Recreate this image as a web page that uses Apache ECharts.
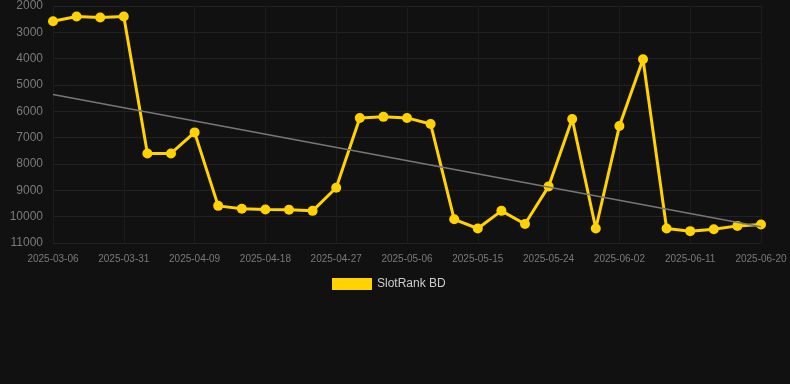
<!DOCTYPE html>
<html>
<head>
<meta charset="utf-8">
<script src="https://cdn.jsdelivr.net/npm/echarts@6/dist/echarts.min.js"></script>
<style>
    html, body { margin: 0; padding: 0; background: #111111; }
    #chart-rank { width: 790px; height: 384px; }
</style>
</head>
<body>
<div id="chart-rank"></div>
<script>
// 日期
var dates = ['2025-03-06', '2025-03-25', '2025-03-28', '2025-03-31', '2025-04-03', '2025-04-06',
    '2025-04-09', '2025-04-12', '2025-04-15', '2025-04-18', '2025-04-21', '2025-04-24',
    '2025-04-27', '2025-04-30', '2025-05-03', '2025-05-06', '2025-05-09', '2025-05-12',
    '2025-05-15', '2025-05-18', '2025-05-21', '2025-05-24', '2025-05-27', '2025-05-30',
    '2025-06-02', '2025-06-05', '2025-06-08', '2025-06-11', '2025-06-14', '2025-06-17',
    '2025-06-20'];
// 排名
var rankBD = [2580, 2400, 2440, 2400, 7600, 7600,
    6800, 9590, 9700, 9730, 9740, 9780,
    8900, 6250, 6210, 6250, 6480, 10100,
    10450, 9780, 10280, 8850, 6290, 10450,
    6560, 4020, 10450, 10550, 10480, 10350,
    10300];
// 趋势线两端
var trendDates = ['2025-03-06', '2025-06-20'];
var trendValues = [5360, 10380];
var yTicks = {min: 2000, max: 11000, step: 1000};

var chartRank = echarts.init(document.getElementById('chart-rank'));
var option = {
    backgroundColor: '#111111',
    animation: false,
    grid: {
        top: 6,
        left: 53,
        right: 29,
        bottom: 141
    },
    legend: {
        data: ['SlotRank BD'],
        top: 273,
        left: 327,
        icon: 'rect',
        itemWidth: 40,
        itemHeight: 12,
        itemGap: 10,
        textStyle: {
            color: '#cccccc',
            fontSize: 12,
            fontFamily: 'Liberation Sans'
        }
    },
    xAxis: {
        type: 'category',
        boundaryGap: false,
        data: dates,
        axisLine: {show: false},
        axisTick: {show: false},
        axisLabel: {
            interval: 2,
            color: '#7a7a7a',
            fontSize: 10,
            margin: 11,
            fontFamily: 'Liberation Sans'
        },
        splitLine: {
            show: true,
            interval: 2,
            lineStyle: {color: '#1c1c1c'}
        }
    },
    yAxis: {
        type: 'value',
        inverse: true,
        min: yTicks.min,
        max: yTicks.max,
        interval: yTicks.step,
        axisLine: {show: false},
        axisTick: {show: false},
        axisLabel: {
            color: '#7a7a7a',
            fontSize: 12,
            margin: 10,
            fontFamily: 'Liberation Sans',
            formatter: function (val) {
                return String(val);
            }
        },
        splitLine: {
            lineStyle: {color: '#222222'}
        }
    },
    series: [{
        name: 'SlotRank BD',
        type: 'line',
        data: rankBD,
        symbol: 'circle',
        symbolSize: 10,
        itemStyle: {color: '#FFD200'},
        lineStyle: {color: '#FFD200', width: 3},
        z: 3,
        markLine: {
            silent: true,
            symbol: 'none',
            label: {show: false},
            lineStyle: {color: '#777777', width: 1.5, type: 'solid'},
            data: [[
                {coord: [trendDates[0], trendValues[0]]},
                {coord: [trendDates[1], trendValues[1]]}
            ]]
        }
    }]
};
chartRank.setOption(option);
</script>
</body>
</html>
